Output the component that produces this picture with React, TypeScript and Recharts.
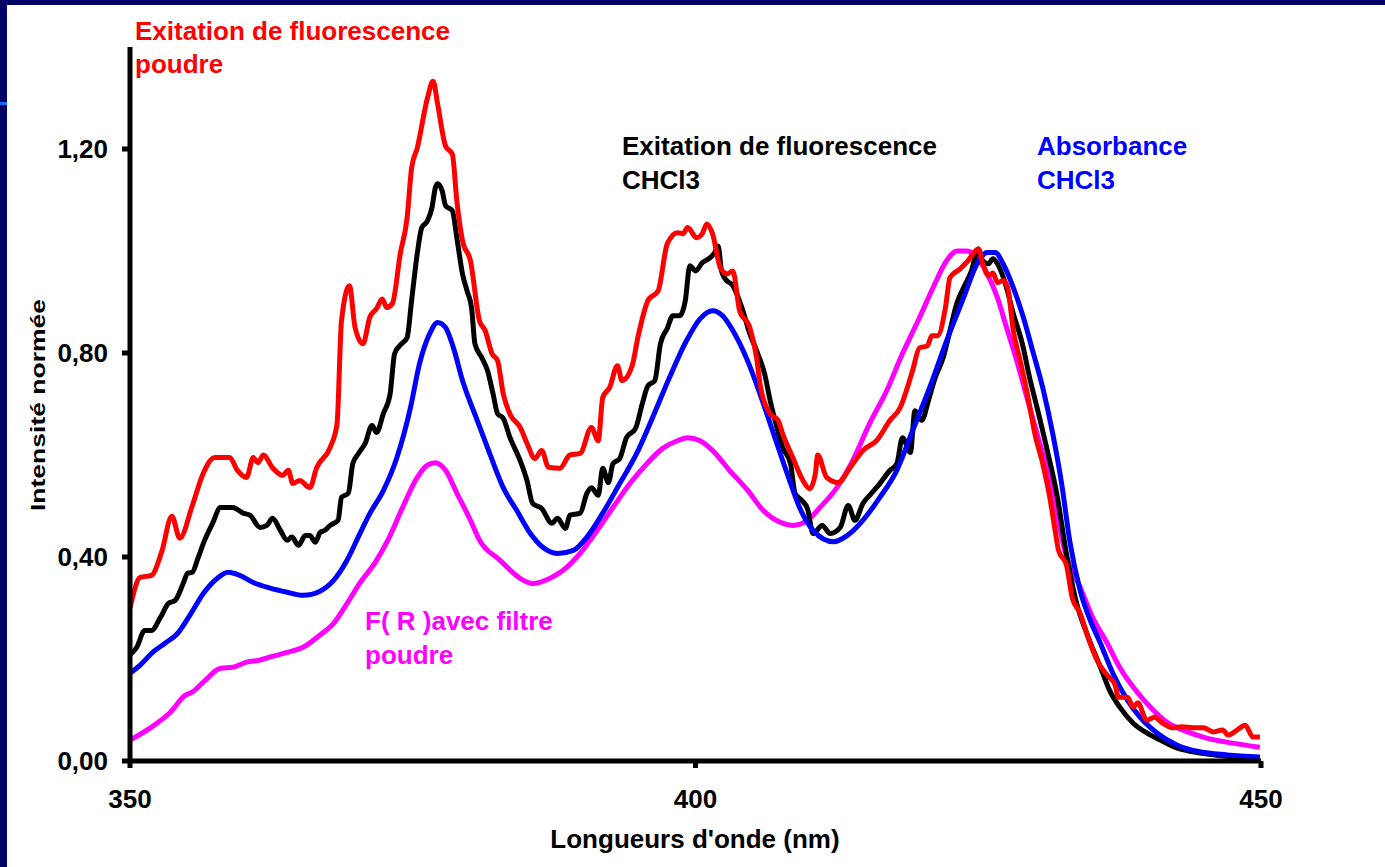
import { Line, LineChart, XAxis, YAxis } from 'recharts';

const X_TICKS = [350, 400, 450];
const Y_TICKS = [0, 0.4, 0.8, 1.2];

// Exitation de fluorescence, poudre (red)
const redNm = [
  350.0, 350.9, 351.9, 352.8, 353.7, 354.4, 355.5, 356.4, 357.5, 358.8,
  359.5, 360.3, 360.9, 361.3, 361.8, 362.6, 363.5, 364.0, 364.4, 365.0,
  365.9, 366.5, 367.7, 368.3, 368.7, 369.4, 369.9, 370.6, 371.2, 371.8,
  372.3, 372.7, 373.2, 373.9, 374.5, 374.9, 375.4, 376.3, 376.8, 377.2,
  377.9, 378.5, 378.9, 379.4, 380.1, 380.9, 381.4, 382.0, 382.5, 383.0,
  383.6, 384.5, 385.1, 385.8, 386.4, 387.0, 388.0, 388.9, 389.8, 390.8,
  391.4, 391.8, 392.4, 393.1, 393.5, 394.4, 394.9, 395.8, 396.7, 397.5,
  398.4, 398.9, 399.3, 400.1, 400.6, 401.0, 401.5, 402.2, 402.8, 403.3,
  403.9, 404.8, 405.4, 405.7, 406.6, 407.3, 407.7, 408.6, 409.5, 410.1,
  410.6, 410.8, 411.6, 412.6, 413.7, 414.8, 416.0, 417.2, 418.1, 418.7,
  419.2, 419.8, 420.5, 420.9, 421.4, 422.1, 422.5, 423.4, 424.1, 425.0,
  425.4, 425.9, 426.3, 426.7, 427.2, 427.6, 428.1, 428.7, 429.4, 430.0,
  430.7, 431.3, 431.8, 432.1, 432.8, 433.3, 434.0, 434.7, 435.5, 436.4,
  437.1, 437.4, 438.2, 438.7, 439.1, 439.9, 440.6, 441.3, 442.2, 443.0,
  444.0, 444.9, 445.8, 446.6, 447.1, 447.9, 448.6, 449.3, 449.9,
];
const redVal = [
  0.30, 0.36, 0.364, 0.41, 0.48, 0.437, 0.50, 0.56, 0.595, 0.595,
  0.57, 0.556, 0.595, 0.585, 0.60, 0.575, 0.56, 0.57, 0.544, 0.55,
  0.536, 0.575, 0.615, 0.66, 0.863, 0.932, 0.85, 0.818, 0.87, 0.887,
  0.906, 0.889, 0.897, 0.995, 1.065, 1.163, 1.202, 1.30, 1.333, 1.288,
  1.206, 1.19, 1.098, 1.02, 0.981, 0.863, 0.844, 0.799, 0.785, 0.72,
  0.68, 0.654, 0.623, 0.593, 0.609, 0.576, 0.574, 0.60, 0.603, 0.654,
  0.628, 0.713, 0.732, 0.775, 0.746, 0.775, 0.83, 0.903, 0.922, 1.014,
  1.036, 1.034, 1.046, 1.026, 1.034, 1.053, 1.034, 0.967, 0.955, 0.961,
  0.883, 0.85, 0.791, 0.74, 0.681, 0.668, 0.642, 0.595, 0.55, 0.534,
  0.564, 0.60, 0.556, 0.546, 0.576, 0.609, 0.628, 0.668, 0.693, 0.73,
  0.766, 0.81, 0.814, 0.834, 0.834, 0.889, 0.948, 0.965, 0.981, 1.004,
  0.975, 0.952, 0.957, 0.938, 0.942, 0.928, 0.844, 0.785, 0.713, 0.642,
  0.583, 0.52, 0.452, 0.413, 0.384, 0.321, 0.29, 0.243, 0.198, 0.168,
  0.149, 0.125, 0.125, 0.106, 0.114, 0.08, 0.086, 0.074, 0.065, 0.067,
  0.065, 0.065, 0.057, 0.061, 0.051, 0.061, 0.07, 0.047, 0.047,
];

// Exitation de fluorescence, CHCl3 (black)
const blackNm = [
  350.0, 350.6, 351.3, 351.9, 352.7, 353.4, 354.0, 354.7, 355.1, 355.5,
  356.0, 356.6, 357.3, 358.0, 359.1, 360.0, 360.6, 361.5, 362.1, 362.6,
  363.3, 363.9, 364.3, 364.9, 365.5, 365.9, 366.4, 366.8, 367.2, 367.7,
  368.4, 368.7, 369.3, 369.7, 370.2, 370.8, 371.4, 371.8, 372.4, 373.0,
  373.4, 374.0, 374.5, 374.9, 375.4, 375.8, 376.3, 376.7, 377.0, 377.2,
  377.6, 377.9, 378.5, 378.9, 379.4, 379.8, 380.2, 380.5, 381.1, 381.6,
  382.1, 382.5, 383.0, 383.6, 384.5, 385.1, 385.6, 386.4, 387.3, 387.8,
  388.5, 388.9, 389.8, 390.4, 390.8, 391.4, 391.8, 392.3, 392.7, 393.3,
  393.9, 394.7, 395.3, 395.8, 396.4, 396.9, 397.5, 398.0, 398.6, 399.1,
  399.5, 400.0, 400.6, 401.3, 401.7, 402.0, 402.3, 402.6, 403.3, 404.1,
  404.8, 405.5, 406.1, 406.6, 407.2, 407.7, 408.4, 408.8, 409.4, 409.9,
  410.4, 411.2, 411.9, 412.8, 413.5, 414.1, 414.8, 415.4, 416.3, 417.2,
  417.8, 418.3, 419.0, 419.4, 420.0, 420.6, 421.2, 421.9, 422.5, 423.1,
  423.7, 424.4, 425.0, 425.4, 425.9, 426.3, 426.7, 427.4, 428.1, 428.9,
  429.6, 430.2, 431.1, 432.0, 432.7, 433.7, 434.6, 435.8, 436.6, 437.5,
  438.7, 439.9, 441.1, 442.6, 444.0, 445.8, 447.5, 449.9,
];
const blackVal = [
  0.208, 0.223, 0.256, 0.256, 0.282, 0.309, 0.315, 0.348, 0.368, 0.37,
  0.397, 0.433, 0.466, 0.497, 0.497, 0.486, 0.482, 0.458, 0.462, 0.476,
  0.452, 0.433, 0.439, 0.423, 0.442, 0.442, 0.429, 0.448, 0.452, 0.462,
  0.472, 0.517, 0.525, 0.583, 0.603, 0.623, 0.658, 0.644, 0.681, 0.72,
  0.799, 0.818, 0.83, 0.903, 0.995, 1.046, 1.059, 1.085, 1.124, 1.132,
  1.118, 1.089, 1.079, 1.026, 0.955, 0.922, 0.889, 0.818, 0.791, 0.766,
  0.72, 0.681, 0.672, 0.634, 0.589, 0.55, 0.505, 0.495, 0.466, 0.476,
  0.456, 0.482, 0.486, 0.525, 0.536, 0.521, 0.574, 0.546, 0.583, 0.593,
  0.634, 0.652, 0.701, 0.736, 0.746, 0.818, 0.848, 0.873, 0.873, 0.903,
  0.971, 0.961, 0.977, 0.987, 0.997, 1.01, 0.961, 0.946, 0.932, 0.889,
  0.838, 0.799, 0.76, 0.707, 0.654, 0.615, 0.583, 0.525, 0.511, 0.495,
  0.446, 0.462, 0.446, 0.458, 0.501, 0.472, 0.505, 0.521, 0.544, 0.57,
  0.583, 0.634, 0.605, 0.687, 0.668, 0.707, 0.752, 0.791, 0.844, 0.897,
  0.928, 0.961, 1.004, 0.981, 0.975, 0.985, 0.975, 0.936, 0.877, 0.818,
  0.746, 0.693, 0.609, 0.517, 0.419, 0.309, 0.25, 0.184, 0.139, 0.106,
  0.074, 0.055, 0.041, 0.025, 0.018, 0.012, 0.008, 0.006,
];

// Absorbance, CHCl3 (blue)
const blueNm = [
  350.0, 350.9, 352.0, 353.1, 354.2, 355.3, 356.5, 357.7, 358.7, 359.7,
  360.9, 362.4, 363.9, 365.3, 366.8, 368.0, 369.2, 370.2, 371.2, 372.4,
  373.6, 374.8, 375.6, 376.5, 377.2, 377.9, 378.6, 379.4, 380.7, 381.8,
  383.0, 384.2, 385.4, 386.5, 387.8, 389.2, 390.4, 391.8, 393.3, 394.8,
  396.2, 397.7, 399.2, 400.4, 401.5, 402.4, 403.3, 404.6, 405.7, 406.9,
  408.1, 409.2, 410.4, 412.2, 413.4, 414.8, 416.3, 417.8, 419.2, 420.7,
  422.2, 423.7, 424.9, 425.8, 426.5, 427.2, 428.1, 429.0, 429.8, 430.7,
  431.6, 432.4, 433.1, 434.0, 434.9, 435.8, 436.9, 438.2, 439.3, 440.8,
  442.6, 444.6, 447.0, 449.9,
];
const blueVal = [
  0.172, 0.188, 0.213, 0.231, 0.25, 0.286, 0.329, 0.358, 0.37, 0.364,
  0.35, 0.339, 0.331, 0.325, 0.333, 0.354, 0.394, 0.44, 0.485, 0.53,
  0.595, 0.693, 0.779, 0.838, 0.86, 0.85, 0.81, 0.746, 0.668, 0.603,
  0.536, 0.491, 0.446, 0.419, 0.407, 0.413, 0.439, 0.486, 0.544, 0.603,
  0.673, 0.752, 0.824, 0.867, 0.883, 0.873, 0.844, 0.785, 0.72, 0.642,
  0.564, 0.497, 0.452, 0.43, 0.442, 0.472, 0.517, 0.57, 0.648, 0.732,
  0.824, 0.908, 0.975, 0.997, 0.997, 0.975, 0.928, 0.869, 0.805, 0.732,
  0.64, 0.54, 0.43, 0.335, 0.276, 0.231, 0.172, 0.119, 0.086, 0.055,
  0.031, 0.018, 0.012, 0.008,
];

// F(R) avec filtre, poudre (magenta)
const magNm = [
  350.0, 351.8, 353.5, 354.9, 355.5, 356.5, 358.0, 359.1, 360.3, 361.5,
  362.4, 363.9, 365.3, 366.8, 368.0, 369.2, 370.2, 371.7, 372.8, 374.1,
  375.4, 376.3, 377.0, 377.9, 378.9, 380.1, 380.9, 382.7, 384.5, 385.6,
  387.1, 388.3, 389.8, 391.3, 392.7, 394.2, 395.7, 397.1, 398.4, 399.3,
  400.4, 401.5, 403.0, 404.6, 406.0, 407.5, 408.6, 409.9, 411.0, 412.5,
  413.9, 415.4, 416.9, 418.3, 419.8, 421.0, 422.2, 423.1, 424.0, 424.9,
  425.8, 426.7, 427.5, 428.4, 429.3, 430.2, 431.1, 432.0, 432.8, 434.0,
  435.1, 436.4, 437.5, 438.7, 440.2, 441.7, 443.5, 445.2, 447.5, 449.9,
];
const magVal = [
  0.041, 0.065, 0.094, 0.129, 0.135, 0.155, 0.182, 0.184, 0.194, 0.198,
  0.204, 0.213, 0.223, 0.247, 0.27, 0.309, 0.345, 0.39, 0.433, 0.497,
  0.556, 0.58, 0.585, 0.57, 0.525, 0.472, 0.433, 0.394, 0.358, 0.348,
  0.358, 0.374, 0.407, 0.452, 0.497, 0.544, 0.583, 0.613, 0.628, 0.634,
  0.628, 0.609, 0.57, 0.531, 0.491, 0.468, 0.462, 0.472, 0.497, 0.536,
  0.589, 0.662, 0.726, 0.799, 0.869, 0.928, 0.981, 1.0, 1.0, 0.987,
  0.955, 0.908, 0.85, 0.785, 0.713, 0.642, 0.57, 0.478, 0.40, 0.341,
  0.282, 0.231, 0.184, 0.145, 0.106, 0.076, 0.057, 0.045, 0.035, 0.027,
];

const toPoints = (nm: number[], val: number[]) => nm.map((x, i) => ({ nm: x, v: val[i] }));

// drawing order: magenta at the bottom, red on top
const SERIES = [
  { name: 'F(R) poudre', color: '#ff00ff', data: toPoints(magNm, magVal) },
  { name: 'Excitation CHCl3', color: '#000000', data: toPoints(blackNm, blackVal) },
  { name: 'Absorbance CHCl3', color: '#0000ff', data: toPoints(blueNm, blueVal) },
  { name: 'Excitation poudre', color: '#ff0000', data: toPoints(redNm, redVal) },
];

const FONT = '"Liberation Sans", Arial, sans-serif';
const NAVY = '#000066';

const fmtY = (v: number) => v.toFixed(2).replace('.', ',');

const tickStyle = { fill: '#000', fontSize: 26, fontWeight: 700, fontFamily: FONT };

export default function App() {
  return (
    <div
      style={{
        position: 'absolute',
        left: 0,
        top: 0,
        width: 1385,
        height: 867,
        background: '#fff',
        overflow: 'hidden',
        fontFamily: FONT,
      }}
    >
      <LineChart width={1385} height={867} margin={{ top: 47, right: 124, bottom: 0, left: 0 }}>
        <XAxis
          dataKey="nm"
          type="number"
          domain={[350, 450]}
          ticks={X_TICKS}
          allowDataOverflow
          height={106}
          axisLine={{ stroke: '#000', strokeWidth: 5 }}
          tickLine={{ stroke: '#000', strokeWidth: 5 }}
          tickSize={7}
          tickMargin={22}
          tick={tickStyle}
        />
        <YAxis
          type="number"
          domain={[0, 1.4]}
          ticks={Y_TICKS}
          allowDataOverflow
          width={130}
          axisLine={{ stroke: '#000', strokeWidth: 5 }}
          tickLine={{ stroke: '#000', strokeWidth: 5 }}
          tickSize={8}
          tickMargin={14}
          tickFormatter={fmtY}
          tick={tickStyle}
        />
        {SERIES.map((s) => (
          <Line
            key={s.name}
            data={s.data}
            dataKey="v"
            type="monotone"
            stroke={s.color}
            strokeWidth={5}
            strokeLinejoin="round"
            dot={false}
            activeDot={false}
            isAnimationActive={false}
          />
        ))}
      </LineChart>

      <svg
        width={1385}
        height={867}
        style={{ position: 'absolute', left: 0, top: 0, pointerEvents: 'none' }}
        fontFamily={FONT}
        fontWeight={700}
        fontSize={26}
      >
        <text x={135} y={40} fill="#ff0000">Exitation de fluorescence</text>
        <text x={135} y={73} fill="#ff0000">poudre</text>

        <text x={622} y={155} fill="#000">Exitation de fluorescence</text>
        <text x={622} y={189} fill="#000">CHCl3</text>

        <text x={1037} y={155} fill="#0000ff">Absorbance</text>
        <text x={1037} y={189} fill="#0000ff">CHCl3</text>

        <text x={365} y={630} fill="#ff00ff">F( R )avec filtre</text>
        <text x={365} y={664} fill="#ff00ff">poudre</text>

        <text x={695} y={848} textAnchor="middle" fill="#000">
          Longueurs d'onde (nm)
        </text>
        <text
          x={0}
          y={0}
          transform="translate(45 405) rotate(-90)"
          textAnchor="middle"
          fill="#000"
          fontSize={20}
          textLength={212}
          lengthAdjust="spacingAndGlyphs"
        >
          Intensité normée
        </text>
      </svg>

      <div style={{ position: 'absolute', left: 0, top: 0, width: 1385, height: 5, background: NAVY }} />
      <div style={{ position: 'absolute', left: 0, top: 0, width: 7, height: 867, background: NAVY }} />
      <div style={{ position: 'absolute', left: 0, top: 102, width: 7, height: 3, background: '#1a6cff' }} />
    </div>
  );
}
